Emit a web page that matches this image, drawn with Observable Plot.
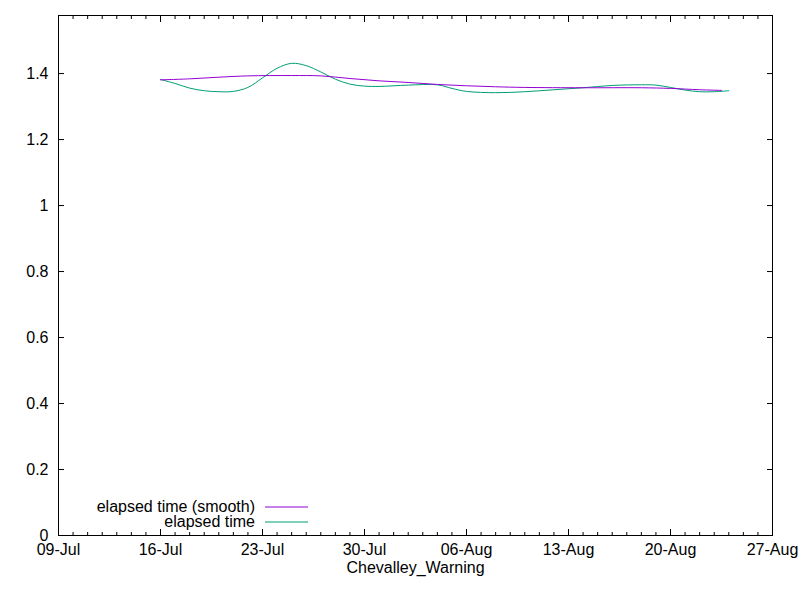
<!DOCTYPE html>
<html>
<head>
<meta charset="utf-8">
<script src="https://cdn.jsdelivr.net/npm/d3@7"></script>
<script src="https://cdn.jsdelivr.net/npm/@observablehq/plot@0.6"></script>
<style>
  html, body { margin: 0; padding: 0; background: #fff; }
  #chart { width: 800px; height: 600px; }
</style>
</head>
<body>
<div id="chart"></div>
<script>
// Data
const rawDays = ["2023-07-16","2023-07-17","2023-07-18","2023-07-19","2023-07-20","2023-07-21","2023-07-22","2023-07-23","2023-07-24","2023-07-25","2023-07-26","2023-07-27","2023-07-28","2023-07-29","2023-07-30","2023-07-31","2023-08-02","2023-08-04","2023-08-05","2023-08-06","2023-08-08","2023-08-10","2023-08-12","2023-08-14","2023-08-16","2023-08-18","2023-08-19","2023-08-20","2023-08-21","2023-08-22","2023-08-23","2023-08-24"];
const rawValues = [1.382,1.370,1.356,1.348,1.345,1.346,1.358,1.387,1.416,1.431,1.424,1.405,1.383,1.368,1.362,1.361,1.365,1.366,1.355,1.346,1.342,1.345,1.351,1.357,1.364,1.366,1.365,1.358,1.350,1.345,1.345,1.348];

const smoothDays = ["2023-07-16","2023-07-18","2023-07-20","2023-07-22","2023-07-25","2023-07-27","2023-07-29","2023-07-31","2023-08-02","2023-08-04","2023-08-06","2023-08-08","2023-08-10","2023-08-14","2023-08-18","2023-08-20","2023-08-22","2023-08-23T12:00Z"];
const smoothValues = [1.381,1.384,1.389,1.393,1.394,1.393,1.385,1.378,1.373,1.367,1.363,1.360,1.358,1.357,1.357,1.355,1.351,1.349];

const xMajorTicks = ["2023-07-09","2023-07-16","2023-07-23","2023-07-30","2023-08-06","2023-08-13","2023-08-20","2023-08-27"];
const yTicks = [0, 0.2, 0.4, 0.6, 0.8, 1, 1.2, 1.4];
const seriesNames = ["elapsed time (smooth)", "elapsed time"];
const seriesColors = ["#9400d3", "#009e73"];
const xLabel = "Chevalley_Warning";

const parse = s => new Date(s.length > 10 ? s : s + "T00:00Z");
const raw = rawDays.map((d, i) => ({date: parse(d), value: rawValues[i]}));
const smooth = smoothDays.map((d, i) => ({date: parse(d), value: smoothValues[i]}));
const majors = xMajorTicks.map(parse);
const xDomain = [majors[0], majors[majors.length - 1]];
const minors = d3.utcDay.range(xDomain[0], d3.utcDay.offset(xDomain[1], 1));
const fmt = d3.utcFormat("%d-%b");

const W = 800, H = 600, mL = 58, mR = 28, mT = 15, mB = 65;

const plot = Plot.plot({
  width: W, height: H,
  marginLeft: mL, marginRight: mR, marginTop: mT, marginBottom: mB,
  style: {fontFamily: "'Liberation Sans', Arial, sans-serif", fontSize: "16px", color: "#000", background: "#fff"},
  x: {type: "utc", domain: xDomain},
  y: {domain: [0, 1.576]},
  marks: [
    // minor ticks (bottom and top), inward
    Plot.axisX({anchor: "bottom", ticks: minors, tickSize: -3, tickFormat: () => "", label: null}),
    Plot.axisX({anchor: "top", ticks: minors, tickSize: -3, tickFormat: () => "", label: null}),
    // major ticks inward
    Plot.axisX({anchor: "bottom", ticks: majors, tickSize: -6, tickFormat: () => "", label: null}),
    Plot.axisX({anchor: "top", ticks: majors, tickSize: -6, tickFormat: () => "", label: null}),
    // labels
    Plot.axisX({anchor: "bottom", ticks: majors, tickSize: 0, tickPadding: 8, tickFormat: fmt, label: null}),
    Plot.axisY({anchor: "left", ticks: yTicks, tickSize: -6, tickFormat: () => "", label: null}),
    Plot.axisY({anchor: "right", ticks: yTicks, tickSize: -6, tickFormat: () => "", label: null}),
    Plot.axisY({anchor: "left", ticks: yTicks, tickSize: 0, tickPadding: 10, tickFormat: d => String(d), label: null}),
    Plot.frame({stroke: "#000"}),
    Plot.line(raw, {x: "date", y: "value", stroke: seriesColors[1], strokeWidth: 1, curve: "catmull-rom"}),
    Plot.line(smooth, {x: "date", y: "value", stroke: seriesColors[0], strokeWidth: 1, curve: "catmull-rom"}),
    Plot.text([xLabel], {frameAnchor: "bottom", dy: 37, text: d => d, fill: "#000"})
  ]
});

document.getElementById("chart").appendChild(plot);

// Legend (inside plot, bottom-left), drawn into the plot's SVG
const svg = d3.select(plot);
const legend = svg.append("g")
  .attr("font-family", "'Liberation Sans', Arial, sans-serif")
  .attr("font-size", 16);
seriesNames.forEach((name, i) => {
  const cy = H - mB - 28 + i * 15;
  legend.append("text")
    .attr("x", mL + 197).attr("y", cy).attr("dy", "0.32em")
    .attr("text-anchor", "end").attr("fill", "#000")
    .text(name);
  legend.append("line")
    .attr("x1", mL + 207).attr("x2", mL + 250)
    .attr("y1", cy).attr("y2", cy)
    .attr("stroke", seriesColors[i]).attr("stroke-width", 1);
});
</script>
</body>
</html>
